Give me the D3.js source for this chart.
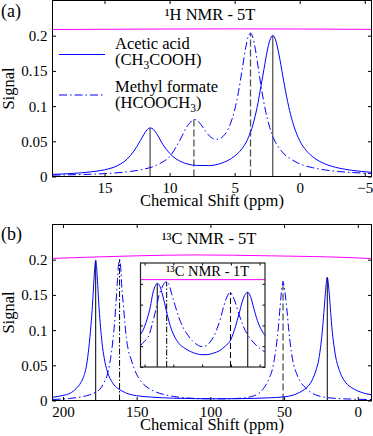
<!DOCTYPE html>
<html>
<head>
<meta charset="utf-8">
<script src="https://cdn.jsdelivr.net/npm/d3@7"></script>
<style>
  body { margin: 0; background: #fff; }
  text { font-family: "Liberation Serif", "Times New Roman", serif; fill: #000; }
</style>
</head>
<body>
<div class="nmr-figure"></div>
<script>
// ---- panel (a): 1H NMR at 5T ----
var hAceticPpm = [19, 17.5, 16, 15, 14, 13.5, 13, 12.5, 12, 11.75, 11.5, 11.25, 11, 10.5, 10, 9.5, 9, 8.5, 8, 7, 6, 5, 4.5, 4, 3.5, 3.2, 3, 2.75, 2.5, 2.3, 2.07, 1.85, 1.6, 1.3, 1, 0.7, 0.4, 0, -0.5, -1, -2, -3, -4, -5.5];
var hAceticSignal = [0.003, 0.0043, 0.0067, 0.0095, 0.0155, 0.021, 0.030, 0.043, 0.059, 0.066, 0.069, 0.067, 0.061, 0.045, 0.033, 0.025, 0.020, 0.0172, 0.0158, 0.0155, 0.019, 0.029, 0.038, 0.053, 0.08, 0.105, 0.126, 0.152, 0.178, 0.193, 0.2003, 0.194, 0.174, 0.143, 0.113, 0.088, 0.069, 0.051, 0.037, 0.028, 0.0175, 0.012, 0.0088, 0.006];
var hFormatePpm = [19, 17, 15, 13, 12, 11, 10.5, 10, 9.5, 9, 8.7, 8.4, 8.13, 7.9, 7.6, 7.2, 6.8, 6.5, 6.2, 5.9, 5.6, 5.3, 5, 4.7, 4.4, 4.15, 3.95, 3.78, 3.6, 3.4, 3.15, 2.9, 2.6, 2.3, 2, 1.6, 1.2, 0.7, 0, -1, -2, -3, -4, -5.5];
var hFormateSignal = [0.002, 0.0027, 0.0041, 0.0072, 0.0103, 0.016, 0.021, 0.028, 0.042, 0.059, 0.07, 0.077, 0.081, 0.080, 0.074, 0.0633, 0.0555, 0.0528, 0.0531, 0.0568, 0.064, 0.0761, 0.0944, 0.1207, 0.1544, 0.1829, 0.199, 0.2035, 0.1976, 0.18, 0.15, 0.1203, 0.0912, 0.0695, 0.054, 0.041, 0.032, 0.025, 0.018, 0.0125, 0.0092, 0.007, 0.0057, 0.0042];
var hAceticPeaks = [11.5, 2.07];
var hAceticHeights = [0.069, 0.2003];
var hFormatePeaks = [8.13, 3.78];
var hFormateHeights = [0.081, 0.2035];
var hMagentaPpm = [19, 10, 5, 0, -5.5];
var hMagentaSignal = [0.2088, 0.2095, 0.2097, 0.2095, 0.209];
var hXTicks = [15, 10, 5, 0, -5];
var hXTickLabels = ["15", "10", "5", "0", "\u22125"];

// ---- panel (b): 13C NMR at 5T ----
var cAceticPpm = [207, 200, 195, 191, 188, 186, 184, 182.5, 181, 180, 179, 178.4, 177.8, 177.2, 176.4, 175.5, 174.5, 173.5, 172, 170, 168, 166, 163, 160, 155, 150, 140, 125, 110, 95, 80, 70, 60, 50, 44, 40, 36, 33, 30.5, 28.5, 26.5, 25, 24, 23, 22, 21.3, 20.7, 20.1, 19.3, 18.4, 17.4, 16.3, 15, 13, 11, 8, 4, 0, -5, -9.3];
var cAceticSignal = [0.0047, 0.0072, 0.0105, 0.017, 0.025, 0.034, 0.05, 0.074, 0.107, 0.135, 0.17, 0.19, 0.1989, 0.19, 0.163, 0.131, 0.104, 0.082, 0.06, 0.042, 0.031, 0.024, 0.0175, 0.0135, 0.009, 0.0068, 0.0048, 0.0033, 0.0026, 0.0024, 0.0026, 0.003, 0.0038, 0.0052, 0.0075, 0.011, 0.016, 0.022, 0.031, 0.042, 0.058, 0.08, 0.1, 0.125, 0.152, 0.168, 0.175, 0.168, 0.15, 0.125, 0.1, 0.08, 0.062, 0.046, 0.035, 0.025, 0.018, 0.0135, 0.01, 0.008];
var cFormatePpm = [207, 195, 188, 182, 178, 175, 172, 170, 168.5, 167, 166, 165, 164, 163, 162.3, 161.6, 160.9, 160, 159, 158, 157, 155.5, 154, 152, 150, 147, 143, 138, 132, 125, 115, 100, 90, 80, 74, 70, 66, 63, 60, 58, 56.5, 55, 54, 53, 52, 51.3, 50.7, 50, 49, 48, 47, 46, 45, 43.5, 41.5, 39, 35, 31, 27, 22, 15, 5, -9.3];
var cFormateSignal = [0.0015, 0.003, 0.005, 0.008, 0.0115, 0.016, 0.026, 0.036, 0.05, 0.07, 0.088, 0.11, 0.14, 0.172, 0.193, 0.2003, 0.191, 0.158, 0.135, 0.11, 0.089, 0.07, 0.06, 0.047, 0.037, 0.027, 0.019, 0.013, 0.0088, 0.0058, 0.0035, 0.0024, 0.0024, 0.0032, 0.0047, 0.007, 0.012, 0.02, 0.032, 0.044, 0.06, 0.082, 0.101, 0.126, 0.15, 0.163, 0.1695, 0.162, 0.147, 0.127, 0.104, 0.084, 0.068, 0.051, 0.038, 0.027, 0.017, 0.0105, 0.0068, 0.0045, 0.003, 0.002, 0.0014];
var cAceticPeaks = [177.8, 20.7];
var cAceticHeights = [0.1989, 0.175];
var cFormatePeaks = [161.6, 50.7];
var cFormateHeights = [0.2003, 0.1695];
var cMagentaPpm = [207, 150, 110, 60, 0, -9.3];
var cMagentaSignal = [0.2018, 0.2055, 0.2068, 0.2055, 0.2025, 0.2015];
var cXTicks = [200, 150, 100, 50, 0];
var cXTickLabels = ["200", "150", "100", "50", "0"];

// ---- inset: 13C NMR at 1T ----
var iAceticPpm = [207, 200, 195, 190, 186, 182, 178, 174, 170, 165, 160, 155, 150, 145, 140, 130, 120, 110, 100, 90, 80, 70, 60, 50, 46, 42, 36, 30, 25, 20.7, 16, 10, 4, -2, -9.3];
var iAceticSignal = [0.078, 0.097, 0.118, 0.145, 0.175, 0.193, 0.201, 0.196, 0.179, 0.152, 0.122, 0.097, 0.079, 0.066, 0.056, 0.045, 0.037, 0.032, 0.0295, 0.03, 0.0335, 0.039, 0.05, 0.066, 0.08, 0.097, 0.127, 0.158, 0.175, 0.1795, 0.17, 0.14, 0.112, 0.092, 0.076];
var iFormatePpm = [207, 200, 192, 186, 180, 175, 170, 166, 162, 158, 153, 147, 140.6, 133, 125, 117, 108, 100, 93, 86, 80, 74, 68, 62, 57, 54, 51, 47, 42, 36, 29.3, 22, 15, 8, 0, -9.3];
var iFormateSignal = [0.052, 0.062, 0.078, 0.107, 0.14, 0.172, 0.19, 0.201, 0.205, 0.2, 0.176, 0.148, 0.12, 0.095, 0.077, 0.063, 0.053, 0.049, 0.051, 0.06, 0.073, 0.092, 0.117, 0.148, 0.168, 0.176, 0.1795, 0.172, 0.154, 0.127, 0.101, 0.08, 0.066, 0.055, 0.045, 0.036];
var iAceticPeaks = [178, 20.7];
var iAceticHeights = [0.201, 0.1795];
var iFormatePeaks = [161.6, 50.7];
var iFormateHeights = [0.205, 0.1795];
var iMagentaPpm = [207, -9.3];
var iMagentaSignal = [0.21, 0.21];

var yTicks = [0, 0.05, 0.1, 0.15, 0.2];
var yTickLabels = ["0", "0.05", "0.1", "0.15", "0.2"];

var svgWidth = 373;
var svgHeight = 436;
var blue = "#0000ff";
var magenta = "#ff00ff";
var dashDot = "8,3,1.5,3";

var svg = d3.select('.nmr-figure')
  .append('svg')
  .attr('width', svgWidth)
  .attr('height', svgHeight)
  .style('display', 'block');

function zip(xs, ys) {
  return xs.map(function (x, i) { return [x, ys[i]]; });
}

function drawCurve(g, xScale, yScale, xs, ys, color, dash, width) {
  var line = d3.line()
    .x(function (d) { return xScale(d[0]); })
    .y(function (d) { return yScale(d[1]); })
    .curve(d3.curveMonotoneX);
  g.append('path')
    .datum(zip(xs, ys))
    .attr('d', line)
    .attr('fill', 'none')
    .attr('stroke', color)
    .attr('stroke-width', width || 1)
    .attr('stroke-dasharray', dash || null);
}

function drawSticks(g, xScale, yScale, peaks, heights, color, dash, width) {
  g.selectAll(null)
    .data(zip(peaks, heights))
    .enter()
    .append('line')
    .attr('x1', function (d) { return xScale(d[0]); })
    .attr('x2', function (d) { return xScale(d[0]); })
    .attr('y1', yScale(0))
    .attr('y2', function (d) { return yScale(d[1]); })
    .attr('stroke', color)
    .attr('stroke-width', width)
    .attr('stroke-dasharray', dash || null);
}

// box with inward ticks on all four sides, labels only bottom and left
function drawFrame(g, xScale, yScale, xTicks, xLabels, tick, withLabels) {
  var x0 = xScale.range()[0], x1 = xScale.range()[1];
  var y0 = yScale.range()[0], y1 = yScale.range()[1];

  var bottom = g.append('g')
    .attr('transform', 'translate(0,' + y0 + ')')
    .call(d3.axisBottom(xScale).tickValues(xTicks).tickSizeInner(-tick).tickSizeOuter(0)
      .tickFormat(function (d, i) { return withLabels ? xLabels[i] : ''; }));
  var top = g.append('g')
    .attr('transform', 'translate(0,' + y1 + ')')
    .call(d3.axisTop(xScale).tickValues(xTicks).tickSizeInner(-tick).tickSizeOuter(0).tickFormat(''));
  var left = g.append('g')
    .attr('transform', 'translate(' + x0 + ',0)')
    .call(d3.axisLeft(yScale).tickValues(yTicks).tickSizeInner(-tick).tickSizeOuter(0).tickPadding(5)
      .tickFormat(function (d, i) { return withLabels ? yTickLabels[i] : ''; }));
  var right = g.append('g')
    .attr('transform', 'translate(' + x1 + ',0)')
    .call(d3.axisRight(yScale).tickValues(yTicks).tickSizeInner(-tick).tickSizeOuter(0).tickFormat(''));

  [bottom, top, left, right].forEach(function (a) {
    a.select('.domain').remove();
    a.selectAll('line').attr('stroke', '#000');
  });
  bottom.selectAll('text')
    .attr('y', 16).attr('dy', 0)
    .style('font-size', '15px');
  left.selectAll('text')
    .attr('dy', '0.33em')
    .style('font-size', '15px');

  g.append('rect')
    .attr('x', x0)
    .attr('y', y1)
    .attr('width', x1 - x0)
    .attr('height', y0 - y1)
    .attr('fill', 'none')
    .attr('stroke', '#000')
    .attr('stroke-width', 1);
}

// ---------- panel (a) ----------
var xA = d3.scaleLinear().domain([19.0, -5.52]).range([52.5, 371.5]);
var yA = d3.scaleLinear().domain([0, 0.25]).range([176.5, 0.5]);
var gA = svg.append('g');

drawCurve(gA, xA, yA, hMagentaPpm, hMagentaSignal, magenta, null, 1);
drawSticks(gA, xA, yA, hAceticPeaks, hAceticHeights, '#555', null, 1.3);
drawSticks(gA, xA, yA, hFormatePeaks, hFormateHeights, '#555', '7,3', 1.3);
drawCurve(gA, xA, yA, hAceticPpm, hAceticSignal, blue, null, 1);
drawCurve(gA, xA, yA, hFormatePpm, hFormateSignal, blue, dashDot, 1);
drawFrame(gA, xA, yA, hXTicks, hXTickLabels, 3.5, true);

gA.append('text')
  .attr('x', 210).attr('y', 20)
  .attr('text-anchor', 'middle')
  .style('font-size', '16.5px')
  .text('\u00b9H NMR - 5T');

// legend
var legend = gA.append('g');
legend.append('line')
  .attr('x1', 59).attr('x2', 105).attr('y1', 54.5).attr('y2', 54.5)
  .attr('stroke', blue).attr('stroke-width', 1);
legend.append('line')
  .attr('x1', 59).attr('x2', 105).attr('y1', 95).attr('y2', 95)
  .attr('stroke', blue).attr('stroke-width', 1).attr('stroke-dasharray', dashDot);
legend.append('text').attr('x', 115).attr('y', 48.5).style('font-size', '16.5px').text('Acetic acid');
var t1 = legend.append('text').attr('x', 115).attr('y', 64.5).style('font-size', '16.5px');
t1.append('tspan').text('(CH');
t1.append('tspan').attr('dy', 4).style('font-size', '11.5px').text('3');
t1.append('tspan').attr('dy', -4).text('COOH)');
legend.append('text').attr('x', 115).attr('y', 92).style('font-size', '16.5px').text('Methyl formate');
var t2 = legend.append('text').attr('x', 115).attr('y', 107.5).style('font-size', '16.5px');
t2.append('tspan').text('(HCOOCH');
t2.append('tspan').attr('dy', 4).style('font-size', '11.5px').text('3');
t2.append('tspan').attr('dy', -4).text(')');

svg.append('text')
  .attr('transform', 'translate(13.5,' + (yA(0.125)) + ') rotate(-90)')
  .attr('text-anchor', 'middle')
  .style('font-size', '16.5px')
  .text('Signal');
svg.append('text')
  .attr('x', 212).attr('y', 206)
  .attr('text-anchor', 'middle')
  .style('font-size', '16.5px')
  .text('Chemical Shift (ppm)');
svg.append('text')
  .attr('x', 1).attr('y', 17)
  .style('font-size', '18px')
  .text('(a)');

// ---------- panel (b) ----------
var xB = d3.scaleLinear().domain([207.1, -9.3]).range([52.5, 371.5]);
var yB = d3.scaleLinear().domain([0, 0.25]).range([400.5, 224.5]);
var gB = svg.append('g');

drawCurve(gB, xB, yB, cMagentaPpm, cMagentaSignal, magenta, null, 1);
drawSticks(gB, xB, yB, cAceticPeaks, cAceticHeights, '#000', null, 1);
drawSticks(gB, xB, yB, [cFormatePeaks[0]], [cFormateHeights[0]], '#000', '6,2,1.5,2', 1);
drawSticks(gB, xB, yB, [cFormatePeaks[1]], [cFormateHeights[1]], '#555', '7,3', 1.3);
drawCurve(gB, xB, yB, cAceticPpm, cAceticSignal, blue, null, 1);
drawCurve(gB, xB, yB, cFormatePpm, cFormateSignal, blue, dashDot, 1);
drawFrame(gB, xB, yB, cXTicks, cXTickLabels, 3.5, true);

gB.append('text')
  .attr('x', 209).attr('y', 244)
  .attr('text-anchor', 'middle')
  .style('font-size', '16.5px')
  .text('\u00b9\u00b3C NMR - 5T');

svg.append('text')
  .attr('transform', 'translate(13.5,' + (yB(0.125)) + ') rotate(-90)')
  .attr('text-anchor', 'middle')
  .style('font-size', '16.5px')
  .text('Signal');
svg.append('text')
  .attr('x', 212).attr('y', 430)
  .attr('text-anchor', 'middle')
  .style('font-size', '16.5px')
  .text('Chemical Shift (ppm)');
svg.append('text')
  .attr('x', 1).attr('y', 240)
  .style('font-size', '18px')
  .text('(b)');

// ---------- inset (1T) ----------
var xI = d3.scaleLinear().domain([207.1, -9.3]).range([140.5, 265]);
var yI = d3.scaleLinear().domain([0, 0.25]).range([367, 263]);
var gI = svg.append('g');

gI.append('rect')
  .attr('x', 140.5).attr('y', 263)
  .attr('width', 124.5).attr('height', 104)
  .attr('fill', '#fff');
drawCurve(gI, xI, yI, iMagentaPpm, iMagentaSignal, magenta, null, 1);
drawSticks(gI, xI, yI, iAceticPeaks, iAceticHeights, '#000', null, 1);
drawSticks(gI, xI, yI, [iFormatePeaks[0]], [iFormateHeights[0]], '#000', '6,2,1.5,2', 1);
drawSticks(gI, xI, yI, [iFormatePeaks[1]], [iFormateHeights[1]], '#000', '6,3', 1);
drawCurve(gI, xI, yI, iAceticPpm, iAceticSignal, blue, null, 1);
drawCurve(gI, xI, yI, iFormatePpm, iFormateSignal, blue, dashDot, 1);
drawFrame(gI, xI, yI, cXTicks, cXTickLabels, 2.5, false);
gI.select('rect:last-of-type').attr('stroke', '#222').attr('stroke-width', 1.2);

gI.append('text')
  .attr('x', 207.6).attr('y', 275.7)
  .attr('text-anchor', 'middle')
  .style('font-size', '14.5px')
  .text('\u00b9\u00b3C NMR - 1T');
</script>
</body>
</html>
